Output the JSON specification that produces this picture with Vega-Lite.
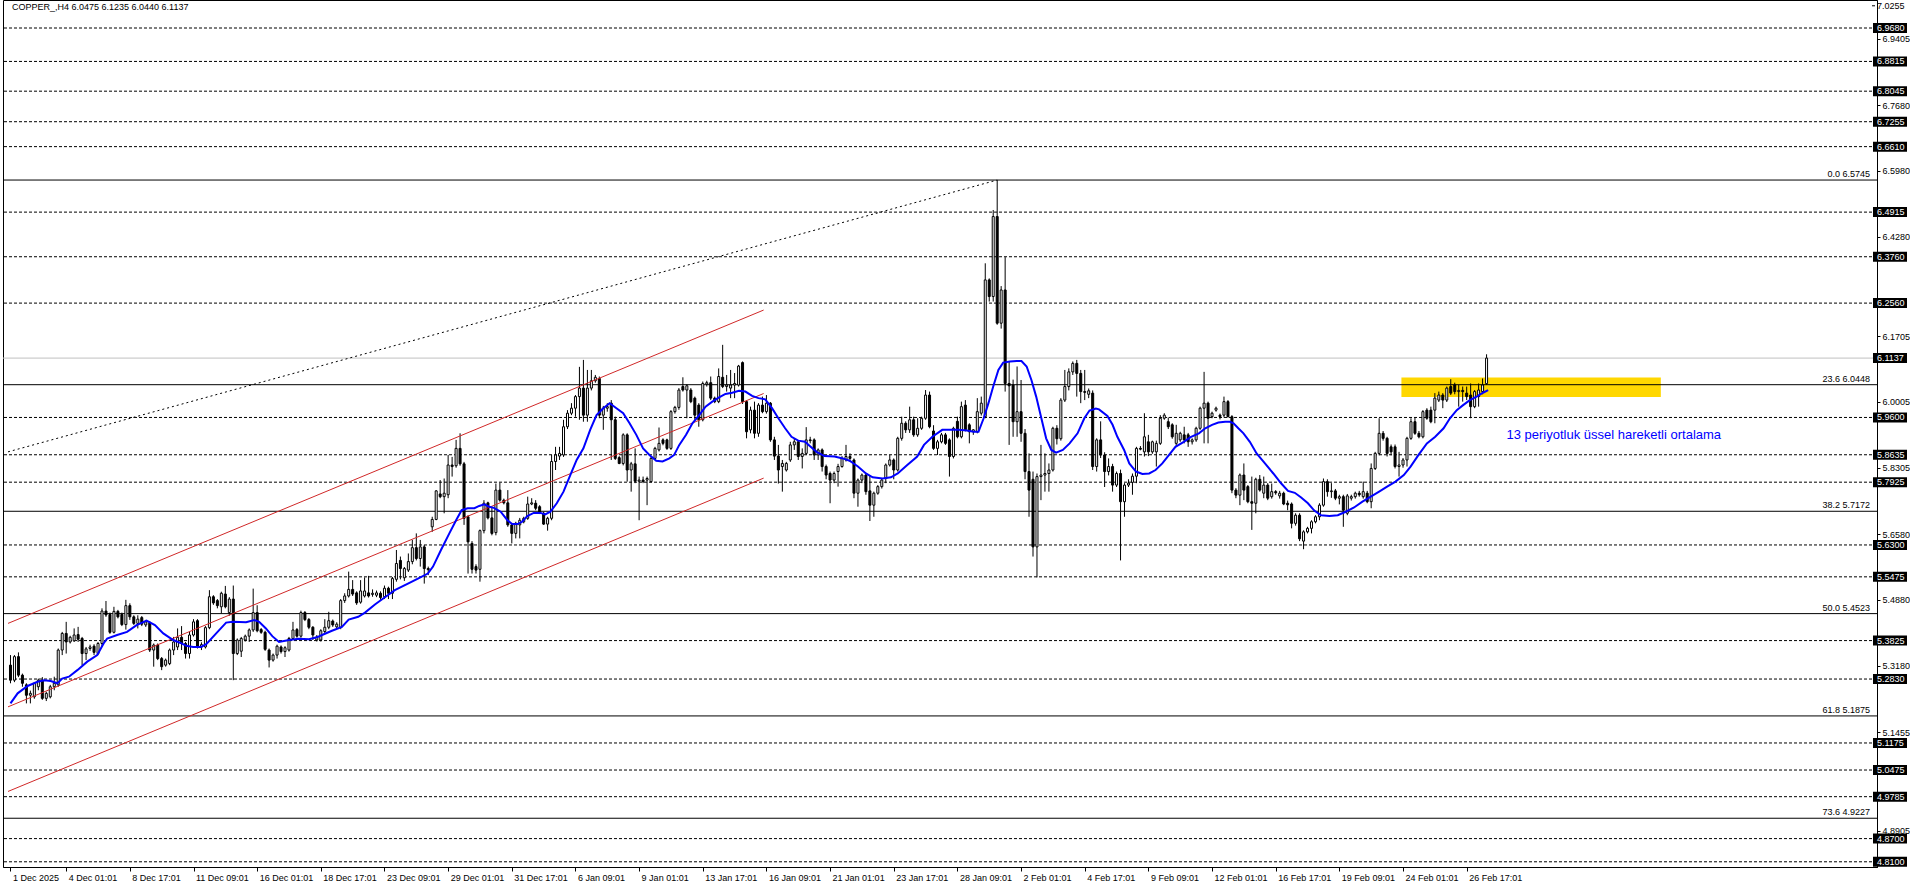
{
"$schema": "https://vega.github.io/schema/vega-lite/v6.json",
"width": 1874,
"height": 867,
"padding": {"left": 2, "top": 0, "right": 0, "bottom": 0},
"autosize": {"type": "pad"},
"background": "white",
"config": {"view": {"stroke": "black", "strokeWidth": 1}, "font": "Liberation Sans"},
"datasets": {
"candles": [
{"i":0,"o":5.319,"h":5.345,"l":5.272,"c":5.280},{"i":1,"o":5.280,"h":5.345,"l":5.275,"c":5.341},{"i":2,"o":5.341,"h":5.352,"l":5.288,"c":5.293},{"i":3,"o":5.293,"h":5.297,"l":5.263,"c":5.272},{"i":4,"o":5.268,"h":5.272,"l":5.220,"c":5.241},{"i":5,"o":5.241,"h":5.253,"l":5.220,"c":5.246},{"i":6,"o":5.237,"h":5.275,"l":5.232,"c":5.272},{"i":7,"o":5.263,"h":5.284,"l":5.254,"c":5.280},{"i":8,"o":5.280,"h":5.288,"l":5.229,"c":5.233},{"i":9,"o":5.233,"h":5.250,"l":5.226,"c":5.246},
{"i":10,"o":5.237,"h":5.268,"l":5.233,"c":5.263},{"i":11,"o":5.263,"h":5.289,"l":5.254,"c":5.272},{"i":12,"o":5.268,"h":5.362,"l":5.263,"c":5.358},{"i":13,"o":5.358,"h":5.405,"l":5.345,"c":5.401},{"i":14,"o":5.401,"h":5.431,"l":5.349,"c":5.379},{"i":15,"o":5.379,"h":5.395,"l":5.375,"c":5.391},{"i":16,"o":5.382,"h":5.414,"l":5.379,"c":5.397},{"i":17,"o":5.398,"h":5.418,"l":5.379,"c":5.386},{"i":18,"o":5.388,"h":5.392,"l":5.319,"c":5.349},{"i":19,"o":5.349,"h":5.366,"l":5.332,"c":5.361},
{"i":20,"o":5.362,"h":5.372,"l":5.356,"c":5.366},{"i":21,"o":5.368,"h":5.373,"l":5.345,"c":5.352},{"i":22,"o":5.349,"h":5.379,"l":5.345,"c":5.375},{"i":23,"o":5.375,"h":5.466,"l":5.366,"c":5.459},{"i":24,"o":5.459,"h":5.485,"l":5.444,"c":5.449},{"i":25,"o":5.450,"h":5.455,"l":5.400,"c":5.404},{"i":26,"o":5.404,"h":5.470,"l":5.401,"c":5.458},{"i":27,"o":5.458,"h":5.462,"l":5.440,"c":5.444},{"i":28,"o":5.450,"h":5.455,"l":5.420,"c":5.424},{"i":29,"o":5.424,"h":5.488,"l":5.411,"c":5.473},
{"i":30,"o":5.473,"h":5.479,"l":5.436,"c":5.444},{"i":31,"o":5.444,"h":5.448,"l":5.423,"c":5.427},{"i":32,"o":5.427,"h":5.448,"l":5.414,"c":5.438},{"i":33,"o":5.442,"h":5.446,"l":5.420,"c":5.425},{"i":34,"o":5.423,"h":5.436,"l":5.418,"c":5.431},{"i":35,"o":5.429,"h":5.433,"l":5.353,"c":5.358},{"i":36,"o":5.358,"h":5.375,"l":5.315,"c":5.371},{"i":37,"o":5.371,"h":5.375,"l":5.332,"c":5.336},{"i":38,"o":5.336,"h":5.340,"l":5.306,"c":5.315},{"i":39,"o":5.319,"h":5.336,"l":5.315,"c":5.332},
{"i":40,"o":5.323,"h":5.362,"l":5.319,"c":5.358},{"i":41,"o":5.358,"h":5.392,"l":5.345,"c":5.379},{"i":42,"o":5.366,"h":5.414,"l":5.358,"c":5.391},{"i":43,"o":5.391,"h":5.420,"l":5.358,"c":5.375},{"i":44,"o":5.375,"h":5.379,"l":5.336,"c":5.349},{"i":45,"o":5.349,"h":5.405,"l":5.336,"c":5.397},{"i":46,"o":5.397,"h":5.438,"l":5.393,"c":5.431},{"i":47,"o":5.434,"h":5.438,"l":5.362,"c":5.366},{"i":48,"o":5.366,"h":5.378,"l":5.358,"c":5.372},{"i":49,"o":5.366,"h":5.420,"l":5.362,"c":5.416},
{"i":50,"o":5.416,"h":5.513,"l":5.412,"c":5.496},{"i":51,"o":5.496,"h":5.500,"l":5.475,"c":5.480},{"i":52,"o":5.486,"h":5.490,"l":5.466,"c":5.473},{"i":53,"o":5.470,"h":5.509,"l":5.453,"c":5.505},{"i":54,"o":5.503,"h":5.524,"l":5.466,"c":5.470},{"i":55,"o":5.455,"h":5.495,"l":5.447,"c":5.490},{"i":56,"o":5.490,"h":5.525,"l":5.280,"c":5.349},{"i":57,"o":5.349,"h":5.388,"l":5.345,"c":5.384},{"i":58,"o":5.355,"h":5.392,"l":5.340,"c":5.388},{"i":59,"o":5.384,"h":5.398,"l":5.380,"c":5.394},
{"i":60,"o":5.394,"h":5.414,"l":5.379,"c":5.410},{"i":61,"o":5.410,"h":5.517,"l":5.405,"c":5.455},{"i":62,"o":5.455,"h":5.474,"l":5.404,"c":5.408},{"i":63,"o":5.411,"h":5.415,"l":5.400,"c":5.404},{"i":64,"o":5.404,"h":5.408,"l":5.356,"c":5.360},{"i":65,"o":5.358,"h":5.362,"l":5.313,"c":5.332},{"i":66,"o":5.332,"h":5.349,"l":5.328,"c":5.345},{"i":67,"o":5.345,"h":5.372,"l":5.336,"c":5.368},{"i":68,"o":5.366,"h":5.370,"l":5.349,"c":5.354},{"i":69,"o":5.354,"h":5.368,"l":5.340,"c":5.364},
{"i":70,"o":5.358,"h":5.392,"l":5.354,"c":5.388},{"i":71,"o":5.388,"h":5.431,"l":5.384,"c":5.410},{"i":72,"o":5.411,"h":5.415,"l":5.390,"c":5.394},{"i":73,"o":5.394,"h":5.460,"l":5.390,"c":5.455},{"i":74,"o":5.455,"h":5.459,"l":5.433,"c":5.437},{"i":75,"o":5.437,"h":5.441,"l":5.412,"c":5.417},{"i":76,"o":5.417,"h":5.420,"l":5.384,"c":5.397},{"i":77,"o":5.384,"h":5.397,"l":5.380,"c":5.392},{"i":78,"o":5.384,"h":5.412,"l":5.380,"c":5.408},{"i":79,"o":5.406,"h":5.438,"l":5.402,"c":5.417},
{"i":80,"o":5.417,"h":5.457,"l":5.412,"c":5.434},{"i":81,"o":5.433,"h":5.437,"l":5.418,"c":5.423},{"i":82,"o":5.418,"h":5.430,"l":5.414,"c":5.425},{"i":83,"o":5.417,"h":5.490,"l":5.412,"c":5.486},{"i":84,"o":5.486,"h":5.505,"l":5.480,"c":5.498},{"i":85,"o":5.498,"h":5.561,"l":5.494,"c":5.515},{"i":86,"o":5.515,"h":5.539,"l":5.498,"c":5.503},{"i":87,"o":5.506,"h":5.510,"l":5.475,"c":5.480},{"i":88,"o":5.482,"h":5.539,"l":5.478,"c":5.511},{"i":89,"o":5.498,"h":5.546,"l":5.494,"c":5.511},
{"i":90,"o":5.506,"h":5.550,"l":5.494,"c":5.498},{"i":91,"o":5.502,"h":5.515,"l":5.496,"c":5.505},{"i":92,"o":5.500,"h":5.512,"l":5.495,"c":5.506},{"i":93,"o":5.505,"h":5.510,"l":5.488,"c":5.494},{"i":94,"o":5.496,"h":5.525,"l":5.490,"c":5.518},{"i":95,"o":5.518,"h":5.522,"l":5.490,"c":5.505},{"i":96,"o":5.505,"h":5.547,"l":5.490,"c":5.543},{"i":97,"o":5.541,"h":5.617,"l":5.535,"c":5.582},{"i":98,"o":5.590,"h":5.600,"l":5.541,"c":5.569},{"i":99,"o":5.545,"h":5.573,"l":5.537,"c":5.569},
{"i":100,"o":5.565,"h":5.608,"l":5.560,"c":5.587},{"i":101,"o":5.587,"h":5.643,"l":5.580,"c":5.623},{"i":102,"o":5.623,"h":5.660,"l":5.590,"c":5.595},{"i":103,"o":5.595,"h":5.643,"l":5.574,"c":5.625},{"i":104,"o":5.625,"h":5.630,"l":5.530,"c":5.569},{"i":105,"o":5.569,"h":5.574,"l":5.552,"c":5.566},{"i":106,"o":5.677,"h":5.703,"l":5.664,"c":5.696},{"i":107,"o":5.696,"h":5.772,"l":5.694,"c":5.770},{"i":108,"o":5.762,"h":5.798,"l":5.751,"c":5.755},{"i":109,"o":5.755,"h":5.802,"l":5.712,"c":5.764},
{"i":110,"o":5.760,"h":5.863,"l":5.751,"c":5.837},{"i":111,"o":5.837,"h":5.858,"l":5.807,"c":5.833},{"i":112,"o":5.835,"h":5.902,"l":5.830,"c":5.880},{"i":113,"o":5.880,"h":5.919,"l":5.835,"c":5.840},{"i":114,"o":5.840,"h":5.845,"l":5.682,"c":5.699},{"i":115,"o":5.703,"h":5.707,"l":5.556,"c":5.638},{"i":116,"o":5.634,"h":5.640,"l":5.556,"c":5.567},{"i":117,"o":5.574,"h":5.580,"l":5.556,"c":5.565},{"i":118,"o":5.567,"h":5.670,"l":5.535,"c":5.667},{"i":119,"o":5.667,"h":5.746,"l":5.660,"c":5.738},
{"i":120,"o":5.739,"h":5.742,"l":5.696,"c":5.700},{"i":121,"o":5.700,"h":5.729,"l":5.655,"c":5.660},{"i":122,"o":5.662,"h":5.789,"l":5.655,"c":5.772},{"i":123,"o":5.772,"h":5.791,"l":5.742,"c":5.746},{"i":124,"o":5.746,"h":5.750,"l":5.735,"c":5.739},{"i":125,"o":5.739,"h":5.772,"l":5.677,"c":5.682},{"i":126,"o":5.682,"h":5.686,"l":5.634,"c":5.660},{"i":127,"o":5.660,"h":5.690,"l":5.647,"c":5.686},{"i":128,"o":5.682,"h":5.700,"l":5.647,"c":5.694},{"i":129,"o":5.690,"h":5.703,"l":5.686,"c":5.699},
{"i":130,"o":5.699,"h":5.755,"l":5.695,"c":5.736},{"i":131,"o":5.736,"h":5.751,"l":5.733,"c":5.739},{"i":132,"o":5.738,"h":5.746,"l":5.720,"c":5.725},{"i":133,"o":5.729,"h":5.733,"l":5.710,"c":5.712},{"i":134,"o":5.712,"h":5.716,"l":5.682,"c":5.684},{"i":135,"o":5.684,"h":5.703,"l":5.667,"c":5.699},{"i":136,"o":5.699,"h":5.863,"l":5.694,"c":5.846},{"i":137,"o":5.846,"h":5.884,"l":5.824,"c":5.863},{"i":138,"o":5.860,"h":5.884,"l":5.850,"c":5.867},{"i":139,"o":5.863,"h":5.954,"l":5.858,"c":5.936},
{"i":140,"o":5.936,"h":5.979,"l":5.930,"c":5.971},{"i":141,"o":5.971,"h":5.997,"l":5.966,"c":5.984},{"i":142,"o":5.984,"h":6.018,"l":5.962,"c":6.014},{"i":143,"o":6.014,"h":6.091,"l":5.954,"c":6.036},{"i":144,"o":6.036,"h":6.109,"l":5.949,"c":5.966},{"i":145,"o":5.966,"h":6.083,"l":5.949,"c":6.036},{"i":146,"o":6.036,"h":6.083,"l":6.030,"c":6.055},{"i":147,"o":6.055,"h":6.070,"l":6.050,"c":6.064},{"i":148,"o":6.061,"h":6.066,"l":5.958,"c":5.966},{"i":149,"o":5.966,"h":5.990,"l":5.928,"c":5.984},
{"i":150,"o":5.984,"h":5.997,"l":5.975,"c":5.988},{"i":151,"o":5.997,"h":6.005,"l":5.850,"c":5.954},{"i":152,"o":5.954,"h":5.962,"l":5.850,"c":5.854},{"i":153,"o":5.856,"h":5.860,"l":5.839,"c":5.841},{"i":154,"o":5.841,"h":5.919,"l":5.836,"c":5.915},{"i":155,"o":5.915,"h":5.919,"l":5.794,"c":5.824},{"i":156,"o":5.824,"h":5.845,"l":5.768,"c":5.840},{"i":157,"o":5.840,"h":5.880,"l":5.790,"c":5.795},{"i":158,"o":5.795,"h":5.807,"l":5.694,"c":5.798},{"i":159,"o":5.798,"h":5.807,"l":5.790,"c":5.794},
{"i":160,"o":5.798,"h":5.807,"l":5.733,"c":5.802},{"i":161,"o":5.794,"h":5.858,"l":5.791,"c":5.854},{"i":162,"o":5.854,"h":5.884,"l":5.850,"c":5.880},{"i":163,"o":5.876,"h":5.934,"l":5.872,"c":5.893},{"i":164,"o":5.902,"h":5.906,"l":5.888,"c":5.893},{"i":165,"o":5.902,"h":5.905,"l":5.876,"c":5.880},{"i":166,"o":5.880,"h":5.979,"l":5.876,"c":5.975},{"i":167,"o":5.975,"h":5.990,"l":5.970,"c":5.986},{"i":168,"o":5.986,"h":6.036,"l":5.980,"c":6.031},{"i":169,"o":6.040,"h":6.064,"l":6.027,"c":6.031},
{"i":170,"o":6.031,"h":6.046,"l":5.958,"c":6.042},{"i":171,"o":6.031,"h":6.036,"l":5.997,"c":6.001},{"i":172,"o":6.010,"h":6.014,"l":5.954,"c":5.966},{"i":173,"o":5.992,"h":5.997,"l":5.936,"c":5.954},{"i":174,"o":5.954,"h":6.053,"l":5.950,"c":6.048},{"i":175,"o":6.046,"h":6.055,"l":6.040,"c":6.050},{"i":176,"o":6.050,"h":6.066,"l":6.005,"c":6.010},{"i":177,"o":6.010,"h":6.014,"l":5.997,"c":6.001},{"i":178,"o":6.001,"h":6.087,"l":5.997,"c":6.066},{"i":179,"o":6.064,"h":6.148,"l":6.036,"c":6.040},
{"i":180,"o":6.040,"h":6.070,"l":6.027,"c":6.044},{"i":181,"o":6.036,"h":6.083,"l":6.010,"c":6.044},{"i":182,"o":6.044,"h":6.075,"l":6.010,"c":6.048},{"i":183,"o":6.044,"h":6.096,"l":6.040,"c":6.093},{"i":184,"o":6.102,"h":6.105,"l":5.995,"c":6.001},{"i":185,"o":6.001,"h":6.005,"l":5.906,"c":5.923},{"i":186,"o":5.928,"h":5.988,"l":5.919,"c":5.979},{"i":187,"o":5.979,"h":6.001,"l":5.906,"c":5.919},{"i":188,"o":5.919,"h":5.997,"l":5.910,"c":5.992},{"i":189,"o":5.992,"h":6.014,"l":5.971,"c":5.975},
{"i":190,"o":5.975,"h":6.018,"l":5.970,"c":5.997},{"i":191,"o":5.997,"h":6.000,"l":5.897,"c":5.902},{"i":192,"o":5.902,"h":5.910,"l":5.850,"c":5.860},{"i":193,"o":5.860,"h":5.889,"l":5.789,"c":5.824},{"i":194,"o":5.833,"h":5.850,"l":5.768,"c":5.841},{"i":195,"o":5.824,"h":5.845,"l":5.820,"c":5.841},{"i":196,"o":5.850,"h":5.897,"l":5.845,"c":5.889},{"i":197,"o":5.889,"h":5.906,"l":5.876,"c":5.897},{"i":198,"o":5.897,"h":5.900,"l":5.850,"c":5.859},{"i":199,"o":5.859,"h":5.880,"l":5.828,"c":5.867},
{"i":200,"o":5.867,"h":5.935,"l":5.863,"c":5.902},{"i":201,"o":5.902,"h":5.910,"l":5.893,"c":5.900},{"i":202,"o":5.902,"h":5.906,"l":5.850,"c":5.863},{"i":203,"o":5.863,"h":5.880,"l":5.850,"c":5.876},{"i":204,"o":5.876,"h":5.880,"l":5.820,"c":5.833},{"i":205,"o":5.833,"h":5.838,"l":5.800,"c":5.811},{"i":206,"o":5.815,"h":5.820,"l":5.738,"c":5.798},{"i":207,"o":5.798,"h":5.820,"l":5.790,"c":5.815},{"i":208,"o":5.820,"h":5.840,"l":5.781,"c":5.833},{"i":209,"o":5.833,"h":5.860,"l":5.830,"c":5.854},
{"i":210,"o":5.850,"h":5.889,"l":5.846,"c":5.859},{"i":211,"o":5.859,"h":5.867,"l":5.846,"c":5.854},{"i":212,"o":5.850,"h":5.854,"l":5.751,"c":5.764},{"i":213,"o":5.764,"h":5.802,"l":5.729,"c":5.798},{"i":214,"o":5.798,"h":5.815,"l":5.790,"c":5.811},{"i":215,"o":5.811,"h":5.815,"l":5.760,"c":5.768},{"i":216,"o":5.770,"h":5.811,"l":5.692,"c":5.733},{"i":217,"o":5.733,"h":5.768,"l":5.703,"c":5.764},{"i":218,"o":5.764,"h":5.785,"l":5.760,"c":5.781},{"i":219,"o":5.781,"h":5.802,"l":5.776,"c":5.798},
{"i":220,"o":5.802,"h":5.841,"l":5.790,"c":5.837},{"i":221,"o":5.837,"h":5.863,"l":5.833,"c":5.850},{"i":222,"o":5.850,"h":5.854,"l":5.800,"c":5.824},{"i":223,"o":5.824,"h":5.910,"l":5.820,"c":5.906},{"i":224,"o":5.906,"h":5.962,"l":5.900,"c":5.945},{"i":225,"o":5.945,"h":5.950,"l":5.920,"c":5.928},{"i":226,"o":5.928,"h":5.988,"l":5.920,"c":5.954},{"i":227,"o":5.954,"h":5.962,"l":5.910,"c":5.915},{"i":228,"o":5.915,"h":5.958,"l":5.910,"c":5.932},{"i":229,"o":5.932,"h":5.962,"l":5.928,"c":5.958},
{"i":230,"o":5.958,"h":6.031,"l":5.954,"c":6.018},{"i":231,"o":6.018,"h":6.027,"l":5.932,"c":5.936},{"i":232,"o":5.925,"h":5.940,"l":5.876,"c":5.880},{"i":233,"o":5.880,"h":5.902,"l":5.863,"c":5.897},{"i":234,"o":5.897,"h":5.920,"l":5.893,"c":5.915},{"i":235,"o":5.915,"h":5.920,"l":5.889,"c":5.893},{"i":236,"o":5.902,"h":5.906,"l":5.807,"c":5.859},{"i":237,"o":5.859,"h":5.936,"l":5.854,"c":5.932},{"i":238,"o":5.950,"h":5.962,"l":5.906,"c":5.910},{"i":239,"o":5.910,"h":6.001,"l":5.906,"c":5.988},
{"i":240,"o":5.992,"h":6.005,"l":5.924,"c":5.928},{"i":241,"o":5.941,"h":5.945,"l":5.893,"c":5.923},{"i":242,"o":5.923,"h":5.930,"l":5.915,"c":5.928},{"i":243,"o":5.923,"h":6.010,"l":5.919,"c":5.975},{"i":244,"o":5.971,"h":6.014,"l":5.965,"c":5.997},{"i":245,"o":5.962,"h":6.359,"l":5.958,"c":6.316},{"i":246,"o":6.316,"h":6.320,"l":6.260,"c":6.273},{"i":247,"o":6.273,"h":6.497,"l":6.260,"c":6.480},{"i":248,"o":6.480,"h":6.5745,"l":6.200,"c":6.204},{"i":249,"o":6.204,"h":6.300,"l":6.190,"c":6.290},
{"i":250,"o":6.290,"h":6.375,"l":6.027,"c":6.048},{"i":251,"o":6.048,"h":6.105,"l":5.889,"c":6.042},{"i":252,"o":6.044,"h":6.058,"l":5.910,"c":5.949},{"i":253,"o":5.949,"h":6.092,"l":5.910,"c":5.975},{"i":254,"o":5.975,"h":6.057,"l":5.897,"c":5.919},{"i":255,"o":5.919,"h":5.930,"l":5.800,"c":5.820},{"i":256,"o":5.820,"h":5.867,"l":5.703,"c":5.772},{"i":257,"o":5.800,"h":5.820,"l":5.600,"c":5.625},{"i":258,"o":5.625,"h":5.815,"l":5.546,"c":5.807},{"i":259,"o":5.807,"h":5.889,"l":5.746,"c":5.811},
{"i":260,"o":5.811,"h":5.867,"l":5.768,"c":5.815},{"i":261,"o":5.815,"h":5.841,"l":5.768,"c":5.824},{"i":262,"o":5.824,"h":5.936,"l":5.820,"c":5.932},{"i":263,"o":5.932,"h":5.940,"l":5.890,"c":5.905},{"i":264,"o":5.905,"h":6.010,"l":5.900,"c":6.005},{"i":265,"o":6.005,"h":6.083,"l":6.000,"c":6.040},{"i":266,"o":6.040,"h":6.087,"l":6.030,"c":6.078},{"i":267,"o":6.078,"h":6.105,"l":6.070,"c":6.100},{"i":268,"o":6.100,"h":6.109,"l":6.014,"c":6.074},{"i":269,"o":6.074,"h":6.083,"l":5.997,"c":6.027},
{"i":270,"o":6.027,"h":6.083,"l":6.005,"c":6.025},{"i":271,"o":6.020,"h":6.035,"l":6.010,"c":6.029},{"i":272,"o":6.023,"h":6.030,"l":5.824,"c":5.833},{"i":273,"o":5.833,"h":5.906,"l":5.820,"c":5.902},{"i":274,"o":5.902,"h":5.950,"l":5.855,"c":5.863},{"i":275,"o":5.863,"h":5.870,"l":5.780,"c":5.820},{"i":276,"o":5.820,"h":5.854,"l":5.810,"c":5.833},{"i":277,"o":5.833,"h":5.840,"l":5.768,"c":5.785},{"i":278,"o":5.785,"h":5.820,"l":5.780,"c":5.815},{"i":279,"o":5.815,"h":5.825,"l":5.590,"c":5.742},
{"i":280,"o":5.742,"h":5.790,"l":5.703,"c":5.785},{"i":281,"o":5.785,"h":5.800,"l":5.780,"c":5.790},{"i":282,"o":5.792,"h":5.815,"l":5.760,"c":5.808},{"i":283,"o":5.808,"h":5.884,"l":5.790,"c":5.880},{"i":284,"o":5.880,"h":5.886,"l":5.875,"c":5.878},{"i":285,"o":5.871,"h":5.971,"l":5.859,"c":5.910},{"i":286,"o":5.897,"h":5.915,"l":5.860,"c":5.871},{"i":287,"o":5.871,"h":5.900,"l":5.866,"c":5.897},{"i":288,"o":5.871,"h":5.900,"l":5.833,"c":5.893},{"i":289,"o":5.893,"h":5.966,"l":5.889,"c":5.958},
{"i":290,"o":5.958,"h":5.971,"l":5.954,"c":5.966},{"i":291,"o":5.949,"h":5.960,"l":5.930,"c":5.936},{"i":292,"o":5.941,"h":5.945,"l":5.905,"c":5.910},{"i":293,"o":5.893,"h":5.941,"l":5.884,"c":5.919},{"i":294,"o":5.902,"h":5.923,"l":5.897,"c":5.919},{"i":295,"o":5.915,"h":5.936,"l":5.893,"c":5.902},{"i":296,"o":5.915,"h":5.920,"l":5.884,"c":5.897},{"i":297,"o":5.897,"h":5.906,"l":5.890,"c":5.902},{"i":298,"o":5.902,"h":5.936,"l":5.897,"c":5.932},{"i":299,"o":5.932,"h":5.988,"l":5.928,"c":5.984},
{"i":300,"o":5.984,"h":6.078,"l":5.893,"c":5.997},{"i":301,"o":5.997,"h":6.001,"l":5.893,"c":5.958},{"i":302,"o":5.962,"h":5.975,"l":5.958,"c":5.971},{"i":303,"o":5.979,"h":5.988,"l":5.975,"c":5.984},{"i":304,"o":5.966,"h":5.970,"l":5.955,"c":5.962},{"i":305,"o":5.966,"h":6.014,"l":5.960,"c":6.001},{"i":306,"o":6.001,"h":6.005,"l":5.960,"c":5.962},{"i":307,"o":5.962,"h":5.966,"l":5.764,"c":5.772},{"i":308,"o":5.772,"h":5.777,"l":5.751,"c":5.759},{"i":309,"o":5.759,"h":5.815,"l":5.733,"c":5.811},
{"i":310,"o":5.811,"h":5.841,"l":5.746,"c":5.772},{"i":311,"o":5.781,"h":5.785,"l":5.738,"c":5.742},{"i":312,"o":5.742,"h":5.807,"l":5.669,"c":5.738},{"i":313,"o":5.738,"h":5.804,"l":5.712,"c":5.800},{"i":314,"o":5.800,"h":5.811,"l":5.768,"c":5.772},{"i":315,"o":5.764,"h":5.807,"l":5.751,"c":5.785},{"i":316,"o":5.785,"h":5.790,"l":5.746,"c":5.751},{"i":317,"o":5.755,"h":5.789,"l":5.750,"c":5.768},{"i":318,"o":5.768,"h":5.772,"l":5.760,"c":5.765},{"i":319,"o":5.757,"h":5.770,"l":5.750,"c":5.764},
{"i":320,"o":5.764,"h":5.768,"l":5.733,"c":5.736},{"i":321,"o":5.738,"h":5.745,"l":5.720,"c":5.734},{"i":322,"o":5.736,"h":5.740,"l":5.673,"c":5.686},{"i":323,"o":5.686,"h":5.712,"l":5.680,"c":5.707},{"i":324,"o":5.707,"h":5.712,"l":5.640,"c":5.646},{"i":325,"o":5.640,"h":5.668,"l":5.619,"c":5.664},{"i":326,"o":5.664,"h":5.677,"l":5.660,"c":5.673},{"i":327,"o":5.673,"h":5.694,"l":5.660,"c":5.690},{"i":328,"o":5.690,"h":5.707,"l":5.686,"c":5.703},{"i":329,"o":5.703,"h":5.738,"l":5.694,"c":5.733},
{"i":330,"o":5.733,"h":5.802,"l":5.729,"c":5.794},{"i":331,"o":5.794,"h":5.800,"l":5.755,"c":5.768},{"i":332,"o":5.768,"h":5.790,"l":5.752,"c":5.770},{"i":333,"o":5.770,"h":5.775,"l":5.746,"c":5.751},{"i":334,"o":5.751,"h":5.760,"l":5.735,"c":5.755},{"i":335,"o":5.755,"h":5.760,"l":5.677,"c":5.720},{"i":336,"o":5.712,"h":5.762,"l":5.707,"c":5.757},{"i":337,"o":5.751,"h":5.760,"l":5.745,"c":5.755},{"i":338,"o":5.755,"h":5.768,"l":5.750,"c":5.764},{"i":339,"o":5.764,"h":5.770,"l":5.755,"c":5.760},
{"i":340,"o":5.755,"h":5.794,"l":5.750,"c":5.768},{"i":341,"o":5.764,"h":5.770,"l":5.738,"c":5.742},{"i":342,"o":5.742,"h":5.841,"l":5.725,"c":5.828},{"i":343,"o":5.828,"h":5.871,"l":5.824,"c":5.867},{"i":344,"o":5.867,"h":5.958,"l":5.862,"c":5.919},{"i":345,"o":5.919,"h":5.925,"l":5.900,"c":5.906},{"i":346,"o":5.906,"h":5.910,"l":5.859,"c":5.867},{"i":347,"o":5.884,"h":5.890,"l":5.862,"c":5.871},{"i":348,"o":5.884,"h":5.890,"l":5.828,"c":5.833},{"i":349,"o":5.833,"h":5.871,"l":5.807,"c":5.837},
{"i":350,"o":5.837,"h":5.855,"l":5.830,"c":5.850},{"i":351,"o":5.850,"h":5.910,"l":5.833,"c":5.906},{"i":352,"o":5.906,"h":5.958,"l":5.902,"c":5.949},{"i":353,"o":5.949,"h":5.960,"l":5.915,"c":5.919},{"i":354,"o":5.919,"h":5.925,"l":5.906,"c":5.910},{"i":355,"o":5.910,"h":5.979,"l":5.906,"c":5.975},{"i":356,"o":5.979,"h":5.984,"l":5.954,"c":5.958},{"i":357,"o":5.979,"h":5.988,"l":5.945,"c":5.949},{"i":358,"o":5.979,"h":6.023,"l":5.945,"c":6.010},{"i":359,"o":6.005,"h":6.027,"l":6.000,"c":6.018},
{"i":360,"o":6.018,"h":6.023,"l":5.984,"c":6.005},{"i":361,"o":6.005,"h":6.040,"l":6.000,"c":6.036},{"i":362,"o":6.040,"h":6.059,"l":6.018,"c":6.023},{"i":363,"o":6.044,"h":6.050,"l":6.020,"c":6.027},{"i":364,"o":6.027,"h":6.044,"l":5.988,"c":6.030},{"i":365,"o":6.030,"h":6.040,"l":6.001,"c":6.027},{"i":366,"o":6.023,"h":6.040,"l":6.005,"c":6.014},{"i":367,"o":6.018,"h":6.048,"l":5.958,"c":5.988},{"i":368,"o":5.988,"h":6.031,"l":5.984,"c":6.027},{"i":369,"o":6.014,"h":6.048,"l":5.988,"c":6.031},
{"i":370,"o":6.027,"h":6.061,"l":6.020,"c":6.044},{"i":371,"o":6.0475,"h":6.1235,"l":6.0440,"c":6.1137}
],
"ema": [
{"i":0,"e":5.220},{"i":1.8,"e":5.246},{"i":4.3,"e":5.265},{"i":6.8,"e":5.276},{"i":8.5,"e":5.280},{"i":10.1,"e":5.278},{"i":11.8,"e":5.272},{"i":13,"e":5.284},{"i":14.7,"e":5.289},{"i":16.8,"e":5.306},{"i":19.3,"e":5.328},{"i":21.8,"e":5.345},{"i":23.4,"e":5.375},{"i":24.3,"e":5.388},{"i":26.8,"e":5.397},{"i":29.3,"e":5.405},{"i":31.7,"e":5.4225},{"i":34.2,"e":5.434},{"i":36.3,"e":5.4225},{"i":38.4,"e":5.401},{"i":40.9,"e":5.384},{"i":42.6,"e":5.377},{"i":44.2,"e":5.369},{"i":45.9,"e":5.366},{"i":47.9,"e":5.366},{"i":49.2,"e":5.373},{"i":51.7,"e":5.401},{"i":54.2,"e":5.429},{"i":55.9,"e":5.431},{"i":59.2,"e":5.430},{"i":61.3,"e":5.4355},{"i":62.5,"e":5.431},{"i":64.2,"e":5.414},{"i":65.8,"e":5.394},{"i":67.5,"e":5.379},{"i":70,"e":5.384},{"i":72.5,"e":5.387},{"i":75,"e":5.386},{"i":77,"e":5.391},{"i":78.3,"e":5.397},{"i":80.8,"e":5.408},{"i":83.3,"e":5.418},{"i":85,"e":5.437},{"i":87.4,"e":5.444},{"i":89.1,"e":5.455},{"i":91.6,"e":5.476},
{"i":93.5,"e":5.490},{"i":96.6,"e":5.513},{"i":99.9,"e":5.530},{"i":102.4,"e":5.543},{"i":104.9,"e":5.556},{"i":106.2,"e":5.574},{"i":108.2,"e":5.617},{"i":110.3,"e":5.660},{"i":112,"e":5.694},{"i":113.4,"e":5.720},{"i":114.9,"e":5.725},{"i":116.6,"e":5.725},{"i":117.8,"e":5.731},{"i":119.1,"e":5.735},{"i":120.3,"e":5.729},{"i":121.5,"e":5.726},{"i":123.2,"e":5.716},{"i":124.9,"e":5.694},{"i":126.1,"e":5.684},{"i":127.4,"e":5.684},{"i":128.6,"e":5.690},{"i":129.9,"e":5.705},{"i":131.5,"e":5.713},{"i":133.2,"e":5.713},{"i":134.4,"e":5.709},{"i":135.7,"e":5.716},{"i":137.3,"e":5.738},{"i":139,"e":5.768},{"i":140.7,"e":5.811},{"i":142.3,"e":5.850},{"i":144,"e":5.880},{"i":145.7,"e":5.928},{"i":147.3,"e":5.966},{"i":149,"e":5.984},{"i":150.6,"e":5.997},{"i":152.3,"e":5.984},{"i":154,"e":5.971},{"i":155.6,"e":5.945},{"i":157.3,"e":5.915},{"i":159,"e":5.880},{"i":160.6,"e":5.863},{"i":162.3,"e":5.848},{"i":163.9,"e":5.846},{"i":165.6,"e":5.854},{"i":166.8,"e":5.863},{"i":168.1,"e":5.889},{"i":169.8,"e":5.915},{"i":171.4,"e":5.945},{"i":173.1,"e":5.966},{"i":174.7,"e":5.988},{"i":176.4,"e":6.001},{"i":178.1,"e":6.012},{"i":179.7,"e":6.021},{"i":181.4,"e":6.024},{"i":183.1,"e":6.029},{"i":184.7,"e":6.027},{"i":186.4,"e":6.016},
{"i":188,"e":6.010},{"i":189.7,"e":6.007},{"i":191.4,"e":5.984},{"i":193,"e":5.958},{"i":194.7,"e":5.932},{"i":196.3,"e":5.910},{"i":198,"e":5.900},{"i":199.7,"e":5.897},{"i":200.9,"e":5.886},{"i":202.6,"e":5.871},{"i":204.6,"e":5.860},{"i":207.1,"e":5.859},{"i":209.2,"e":5.854},{"i":210.9,"e":5.848},{"i":213,"e":5.833},{"i":215,"e":5.815},{"i":216.7,"e":5.805},{"i":219.2,"e":5.802},{"i":221.3,"e":5.805},{"i":223,"e":5.815},{"i":225.4,"e":5.837},{"i":227.9,"e":5.859},{"i":229.6,"e":5.889},{"i":231.7,"e":5.910},{"i":234.2,"e":5.928},{"i":236.2,"e":5.928},{"i":238.3,"e":5.928},{"i":240.4,"e":5.926},{"i":242.1,"e":5.923},{"i":243.3,"e":5.923},{"i":244.6,"e":5.958},{"i":245.8,"e":5.997},{"i":247,"e":6.040},{"i":248.3,"e":6.083},{"i":249.5,"e":6.102},{"i":251.2,"e":6.105},{"i":252.9,"e":6.106},{"i":254.1,"e":6.106},{"i":255.4,"e":6.092},{"i":256.6,"e":6.057},{"i":257.8,"e":6.014},{"i":259.1,"e":5.958},{"i":260.3,"e":5.906},{"i":261.6,"e":5.876},{"i":262.8,"e":5.869},{"i":264.5,"e":5.876},{"i":266.2,"e":5.893},{"i":268.2,"e":5.919},{"i":269.9,"e":5.958},{"i":271.2,"e":5.978},{"i":272.8,"e":5.983},{"i":273.6,"e":5.981},{"i":275.7,"e":5.964},{"i":277,"e":5.941},{"i":278.2,"e":5.910},
{"i":279.9,"e":5.876},{"i":281.2,"e":5.841},{"i":282.9,"e":5.820},{"i":284.5,"e":5.814},{"i":286.2,"e":5.815},{"i":287.8,"e":5.824},{"i":289.5,"e":5.841},{"i":291.2,"e":5.863},{"i":292.8,"e":5.884},{"i":294.9,"e":5.897},{"i":296.6,"e":5.909},{"i":298.7,"e":5.919},{"i":300.3,"e":5.932},{"i":302,"e":5.941},{"i":303.6,"e":5.947},{"i":305.3,"e":5.949},{"i":306.5,"e":5.949},{"i":307.4,"e":5.945},{"i":308.6,"e":5.932},{"i":309.9,"e":5.919},{"i":311.5,"e":5.897},{"i":313.2,"e":5.867},{"i":315.3,"e":5.841},{"i":317.4,"e":5.815},{"i":319.4,"e":5.789},{"i":321.1,"e":5.770},{"i":322.8,"e":5.765},{"i":324.4,"e":5.753},{"i":326.1,"e":5.738},{"i":327.7,"e":5.719},{"i":329.4,"e":5.707},{"i":331.5,"e":5.705},{"i":333.6,"e":5.707},{"i":335.6,"e":5.716},{"i":337.7,"e":5.727},{"i":339.8,"e":5.742},{"i":341.9,"e":5.755},{"i":344,"e":5.768},{"i":346,"e":5.781},{"i":348.1,"e":5.794},{"i":350.2,"e":5.811},{"i":351.9,"e":5.833},{"i":353.9,"e":5.863},{"i":356,"e":5.893},{"i":358.1,"e":5.910},{"i":360.2,"e":5.932},{"i":361.8,"e":5.958},{"i":363.5,"e":5.979},{"i":365.1,"e":5.992},{"i":366.8,"e":6.005},{"i":368.5,"e":6.014},{"i":370.1,"e":6.024},{"i":371.4,"e":6.031}
],
"dashed": [{"p":6.9680},{"p":6.8815},{"p":6.8045},{"p":6.7255},{"p":6.6610},{"p":6.4915},{"p":6.3760},{"p":6.2560},{"p":5.9600},{"p":5.8635},{"p":5.7925},{"p":5.6300},{"p":5.5475},{"p":5.3825},{"p":5.2830},{"p":5.1175},{"p":5.0475},{"p":4.9785},{"p":4.8700},{"p":4.8100}],
"fib": [{"p":6.5745,"t":"0.0 6.5745"},{"p":6.0448,"t":"23.6 6.0448"},{"p":5.7172,"t":"38.2 5.7172"},{"p":5.4523,"t":"50.0 5.4523"},{"p":5.1875,"t":"61.8 5.1875"},{"p":4.9227,"t":"73.6 4.9227"}],
"boxes": [{"p":6.9680},{"p":6.8815},{"p":6.8045},{"p":6.7255},{"p":6.6610},{"p":6.4915},{"p":6.3760},{"p":6.2560},{"p":6.1137},{"p":5.9600},{"p":5.8635},{"p":5.7925},{"p":5.6300},{"p":5.5475},{"p":5.3825},{"p":5.2830},{"p":5.1175},{"p":5.0475},{"p":4.9785},{"p":4.8700},{"p":4.8100}],
"channel": [{"i1":-0.625,"p1":5.427,"i2":189.3,"p2":6.238},{"i1":-0.625,"p1":5.211,"i2":189.3,"p2":6.022},{"i1":-0.625,"p1":4.992,"i2":189.3,"p2":5.803}],
"trend": [{"i1":-0.625,"p1":5.871,"i2":248,"p2":6.5745}],
"zone": [{"i1":349.6,"i2":414.8,"p1":6.0132,"p2":6.0632}],
"notes": [{"i":376,"p":5.9147,"t":"13 periyotluk üssel hareketli ortalama"}],
"head": [{"t":"COPPER_,H4  6.0475 6.1235 6.0440 6.1137"}],
"toplabel": [{"p":7.0255}]
},
"layer": [
{"data": {"name": "zone"}, "mark": {"type": "rect", "color": "#FFD700"},
 "encoding": {
  "x": {"field": "i1", "type": "quantitative", "scale": {"domain": [-0.625, 467.875], "nice": false, "zero": false},
   "axis": {"values": [0,14,30,46,62,78,94,110,126,142,158,174,190,206,222,238,254,270,286,302,318,334,350,366],
    "labelExpr": "['1 Dec 2025','4 Dec 01:01','8 Dec 17:01','11 Dec 09:01','16 Dec 01:01','18 Dec 17:01','23 Dec 09:01','29 Dec 01:01','31 Dec 17:01','6 Jan 09:01','9 Jan 01:01','13 Jan 17:01','16 Jan 09:01','21 Jan 01:01','23 Jan 17:01','28 Jan 09:01','2 Feb 01:01','4 Feb 17:01','9 Feb 09:01','12 Feb 01:01','16 Feb 17:01','19 Feb 09:01','24 Feb 01:01','26 Feb 17:01'][indexof([0,14,30,46,62,78,94,110,126,142,158,174,190,206,222,238,254,270,286,302,318,334,350,366], datum.value)]",
    "title": null, "grid": false, "tickSize": 4, "tickColor": "black", "domainColor": "black", "labelColor": "black",
    "labelFont": "Liberation Sans", "labelFontSize": 9, "labelAlign": "left", "labelOffset": 2, "labelPadding": 2,
    "labelOverlap": false, "labelFlush": false, "labelBound": false}},
  "x2": {"field": "i2"},
  "y": {"field": "p1", "type": "quantitative", "scale": {"domain": [4.7965, 7.0405], "nice": false, "zero": false},
   "axis": {"orient": "right", "values": [6.9405,6.8555,6.768,6.683,6.598,6.513,6.428,6.343,6.1705,6.0855,6.0005,5.9155,5.8305,5.743,5.658,5.573,5.488,5.403,5.318,5.2305,5.1455,5.0605,4.8905],
    "format": ".4f", "title": null, "grid": false, "tickSize": 3, "tickColor": "black", "domainColor": "black", "labelColor": "black",
    "labelFont": "Liberation Sans", "labelFontSize": 9, "labelPadding": 2, "labelOverlap": false, "labelFlush": false, "labelBound": false, "labelBaseline": "middle"}},
  "y2": {"field": "p2"}}},
{"data": {"name": "dashed"}, "mark": {"type": "rule", "color": "black", "strokeWidth": 1, "strokeDash": [3, 2]},
 "encoding": {"y": {"field": "p", "type": "quantitative"}}},
{"data": {"name": "fib"}, "mark": {"type": "rule", "color": "black", "strokeWidth": 1},
 "encoding": {"y": {"field": "p", "type": "quantitative"}}},
{"data": {"name": "head"}, "mark": {"type": "rule", "color": "#C0C0C0", "strokeWidth": 1},
 "encoding": {"y": {"datum": 6.1137, "type": "quantitative"}}},
{"data": {"name": "trend"}, "mark": {"type": "rule", "color": "black", "strokeWidth": 1, "strokeDash": [2, 3]},
 "encoding": {"x": {"field": "i1", "type": "quantitative"}, "x2": {"field": "i2"}, "y": {"field": "p1", "type": "quantitative"}, "y2": {"field": "p2"}}},
{"data": {"name": "candles"}, "mark": {"type": "rule", "color": "black", "strokeWidth": 1},
 "encoding": {"x": {"field": "i", "type": "quantitative"}, "y": {"field": "l", "type": "quantitative"}, "y2": {"field": "h"}}},
{"data": {"name": "candles"}, "mark": {"type": "bar", "width": 2, "stroke": "black", "strokeWidth": 1},
 "encoding": {"x": {"field": "i", "type": "quantitative"}, "y": {"field": "o", "type": "quantitative"}, "y2": {"field": "c"},
  "fill": {"condition": {"test": "datum.c < datum.o", "value": "black"}, "value": "white"}}},
{"data": {"name": "channel"}, "mark": {"type": "rule", "color": "#d02828", "strokeWidth": 1},
 "encoding": {"x": {"field": "i1", "type": "quantitative"}, "x2": {"field": "i2"}, "y": {"field": "p1", "type": "quantitative"}, "y2": {"field": "p2"}}},
{"data": {"name": "ema"}, "mark": {"type": "line", "color": "#0000FF", "strokeWidth": 2},
 "encoding": {"x": {"field": "i", "type": "quantitative"}, "y": {"field": "e", "type": "quantitative"}}},
{"data": {"name": "fib"}, "mark": {"type": "text", "align": "right", "baseline": "bottom", "dx": -2, "dy": -1, "fontSize": 9, "font": "Liberation Sans", "color": "black"},
 "encoding": {"x": {"datum": 467.875, "type": "quantitative"}, "y": {"field": "p", "type": "quantitative"}, "text": {"field": "t"}}},
{"data": {"name": "notes"}, "mark": {"type": "text", "align": "left", "baseline": "middle", "fontSize": 13, "font": "Liberation Sans", "color": "#0000FF"},
 "encoding": {"x": {"field": "i", "type": "quantitative"}, "y": {"field": "p", "type": "quantitative"}, "text": {"field": "t"}}},
{"data": {"name": "head"}, "mark": {"type": "text", "align": "left", "baseline": "middle", "dx": 4, "dy": 7, "fontSize": 9, "font": "Liberation Sans", "color": "black"},
 "encoding": {"x": {"datum": -0.625, "type": "quantitative"}, "y": {"datum": 7.0405, "type": "quantitative"}, "text": {"field": "t"}}},
{"data": {"name": "toplabel"}, "mark": {"type": "text", "align": "left", "baseline": "middle", "dx": 5, "fontSize": 9, "font": "Liberation Sans", "color": "black"},
 "encoding": {"x": {"datum": 467.875, "type": "quantitative"}, "y": {"field": "p", "type": "quantitative"}, "text": {"field": "p", "type": "quantitative", "format": ".4f"}}},
{"data": {"name": "toplabel"}, "mark": {"type": "rule", "color": "black", "strokeWidth": 1, "xOffset": 0, "x2Offset": 3},
 "encoding": {"x": {"datum": 467.875, "type": "quantitative"}, "x2": {"datum": 467.875}, "y": {"field": "p", "type": "quantitative"}}},
{"data": {"name": "boxes"}, "mark": {"type": "rect", "color": "black", "xOffset": 1, "x2Offset": 35, "yOffset": -5, "y2Offset": 5},
 "encoding": {"x": {"datum": 467.875, "type": "quantitative"}, "x2": {"datum": 467.875}, "y": {"field": "p", "type": "quantitative"}, "y2": {"field": "p"}}},
{"data": {"name": "boxes"}, "mark": {"type": "text", "align": "left", "baseline": "middle", "dx": 5, "fontSize": 9, "font": "Liberation Sans", "color": "white"},
 "encoding": {"x": {"datum": 467.875, "type": "quantitative"}, "y": {"field": "p", "type": "quantitative"}, "text": {"field": "p", "type": "quantitative", "format": ".4f"}}}
]
}
